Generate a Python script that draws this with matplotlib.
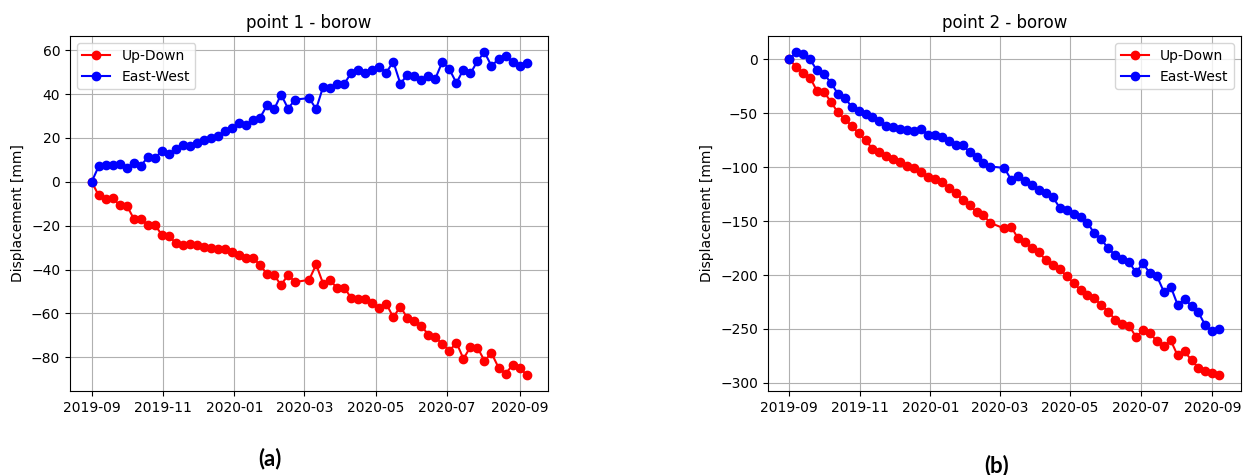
import matplotlib
matplotlib.use("Agg")
import matplotlib.pyplot as plt
import matplotlib.dates as mdates
import pandas as pd

# acquisition dates (6-day revisit, one missing scene at the end of February)
dates = [
    "2019-09-01", "2019-09-07", "2019-09-13", "2019-09-19", "2019-09-25",
    "2019-10-01", "2019-10-07", "2019-10-13", "2019-10-19", "2019-10-25",
    "2019-10-31", "2019-11-06", "2019-11-12", "2019-11-18", "2019-11-24",
    "2019-11-30", "2019-12-06", "2019-12-12", "2019-12-18", "2019-12-24",
    "2019-12-30", "2020-01-05", "2020-01-11", "2020-01-17", "2020-01-23",
    "2020-01-29", "2020-02-04", "2020-02-10", "2020-02-16", "2020-02-22",
    "2020-03-05", "2020-03-11", "2020-03-17", "2020-03-23", "2020-03-29",
    "2020-04-04", "2020-04-10", "2020-04-16", "2020-04-22", "2020-04-28",
    "2020-05-04", "2020-05-10", "2020-05-16", "2020-05-22", "2020-05-28",
    "2020-06-03", "2020-06-09", "2020-06-15", "2020-06-21", "2020-06-27",
    "2020-07-03", "2020-07-09", "2020-07-15", "2020-07-21", "2020-07-27",
    "2020-08-02", "2020-08-08", "2020-08-14", "2020-08-20", "2020-08-26",
    "2020-09-01", "2020-09-07",
]

# point 1 - displacement in mm
p1_up_down = [
    0, -6.2, -8, -7.6, -10.6, -10.8, -16.8, -16.8, -19.9, -19.7,
    -24.1, -24.9, -27.8, -29, -28.5, -28.6, -29.6, -30.2, -30.5, -30.8,
    -31.8, -33.3, -34.6, -34.9, -37.8, -42.2, -42.6, -47, -42.5, -45.7,
    -44.7, -37.7, -46.5, -44.8, -48.6, -48.2, -53, -53.5, -53.5, -55.4,
    -57.7, -55.6, -61.8, -56.9, -62.1, -63.4, -65.7, -69.7, -70.9, -74,
    -77.1, -73.3, -80.7, -75.3, -75.6, -81.6, -78.1, -84.7, -87.6, -83.5,
    -84.7, -88,
]
p1_east_west = [
    0, 7.1, 7.5, 7.8, 8.1, 6.2, 8.5, 7.3, 11.2, 10.8,
    14.1, 12.9, 15, 17, 16.3, 17.8, 19, 20, 21.1, 23.1,
    24.6, 26.6, 26.1, 28, 29.2, 34.9, 33, 39.8, 33.4, 37.5,
    38.2, 33.2, 43.4, 42.9, 44.8, 44.7, 49.6, 51.2, 49.8, 50.8,
    52.3, 49.8, 54.8, 44.8, 48.7, 48.4, 46.3, 48.3, 47.1, 54.8,
    51.3, 45.1, 51.2, 49.4, 55.1, 59.1, 52.8, 56, 57.6, 54.5,
    53, 54.4,
]

# point 2 - displacement in mm
p2_up_down = [
    0, -6.8, -12.3, -16.9, -29.2, -30.2, -39.1, -49.2, -55.4, -61.5,
    -68.6, -74.8, -83, -86.1, -89.2, -92.3, -95.4, -98.4, -100.9, -104.6,
    -109.2, -110.7, -113.8, -119, -124, -130.1, -135.3, -141.5, -144.6, -151.6,
    -156.8, -155.3, -166, -169.2, -175.3, -179, -186.1, -190.7, -194.7, -200.8,
    -207.6, -213.7, -218.4, -221.4, -228.2, -233.8, -241.4, -245.1, -247, -257.4,
    -251.3, -253.7, -261.4, -266, -260.5, -274.6, -270.7, -279, -286, -289.1,
    -291.2, -292.5,
]
p2_east_west = [
    0, 6.7, 4.6, 0, -10.1, -13.3, -21.6, -31.7, -35.4, -44,
    -47.7, -50.8, -53.2, -56.9, -61.5, -62.5, -64.9, -65.5, -66.1, -64.6,
    -69.8, -69.8, -71.7, -75.4, -79.4, -79.1, -86.2, -90.1, -96, -99.3,
    -100.6, -111.6, -108.3, -112.9, -116.9, -121.5, -124, -127.7, -137.5, -140,
    -143.6, -146.1, -151.6, -161.4, -167, -175.3, -181.5, -185.4, -188.2, -197.4,
    -189.1, -198.3, -200.8, -215.3, -210.7, -227.6, -222.3, -228.5, -234.7, -246.7,
    -252.2, -250,
]

titles = ["point 1 - borow", "point 2 - borow"]
panel_labels = ["(a)", "(b)"]

t = pd.to_datetime(dates)

fig = plt.figure(figsize=(12.49, 4.75), dpi=100)
ax1 = fig.add_axes([0.056, 0.177, 0.383, 0.747])
ax2 = fig.add_axes([0.6147, 0.177, 0.3787, 0.747])

panels = [
    (ax1, p1_up_down, p1_east_west, "upper left"),
    (ax2, p2_up_down, p2_east_west, "upper right"),
]

for i, (ax, ud, ew, loc) in enumerate(panels):
    ax.plot(t, ud, "o-", color="red", label="Up-Down")
    ax.plot(t, ew, "o-", color="blue", label="East-West")
    ax.set_title(titles[i])
    ax.set_ylabel("Displacement [mm]")
    ax.xaxis.set_major_locator(mdates.MonthLocator(bymonth=[1, 3, 5, 7, 9, 11]))
    ax.xaxis.set_major_formatter(mdates.DateFormatter("%Y-%m"))
    ax.grid(True)
    ax.legend(loc=loc)

# sub-figure captions
fig.text(0.216, 0.034, panel_labels[0], ha="center", va="center",
         family="Lato", fontweight="bold", fontsize=16)
fig.text(0.798, 0.02, panel_labels[1], ha="center", va="center",
         family="Lato", fontweight="bold", fontsize=16)

fig.savefig("out.png", dpi=100)
